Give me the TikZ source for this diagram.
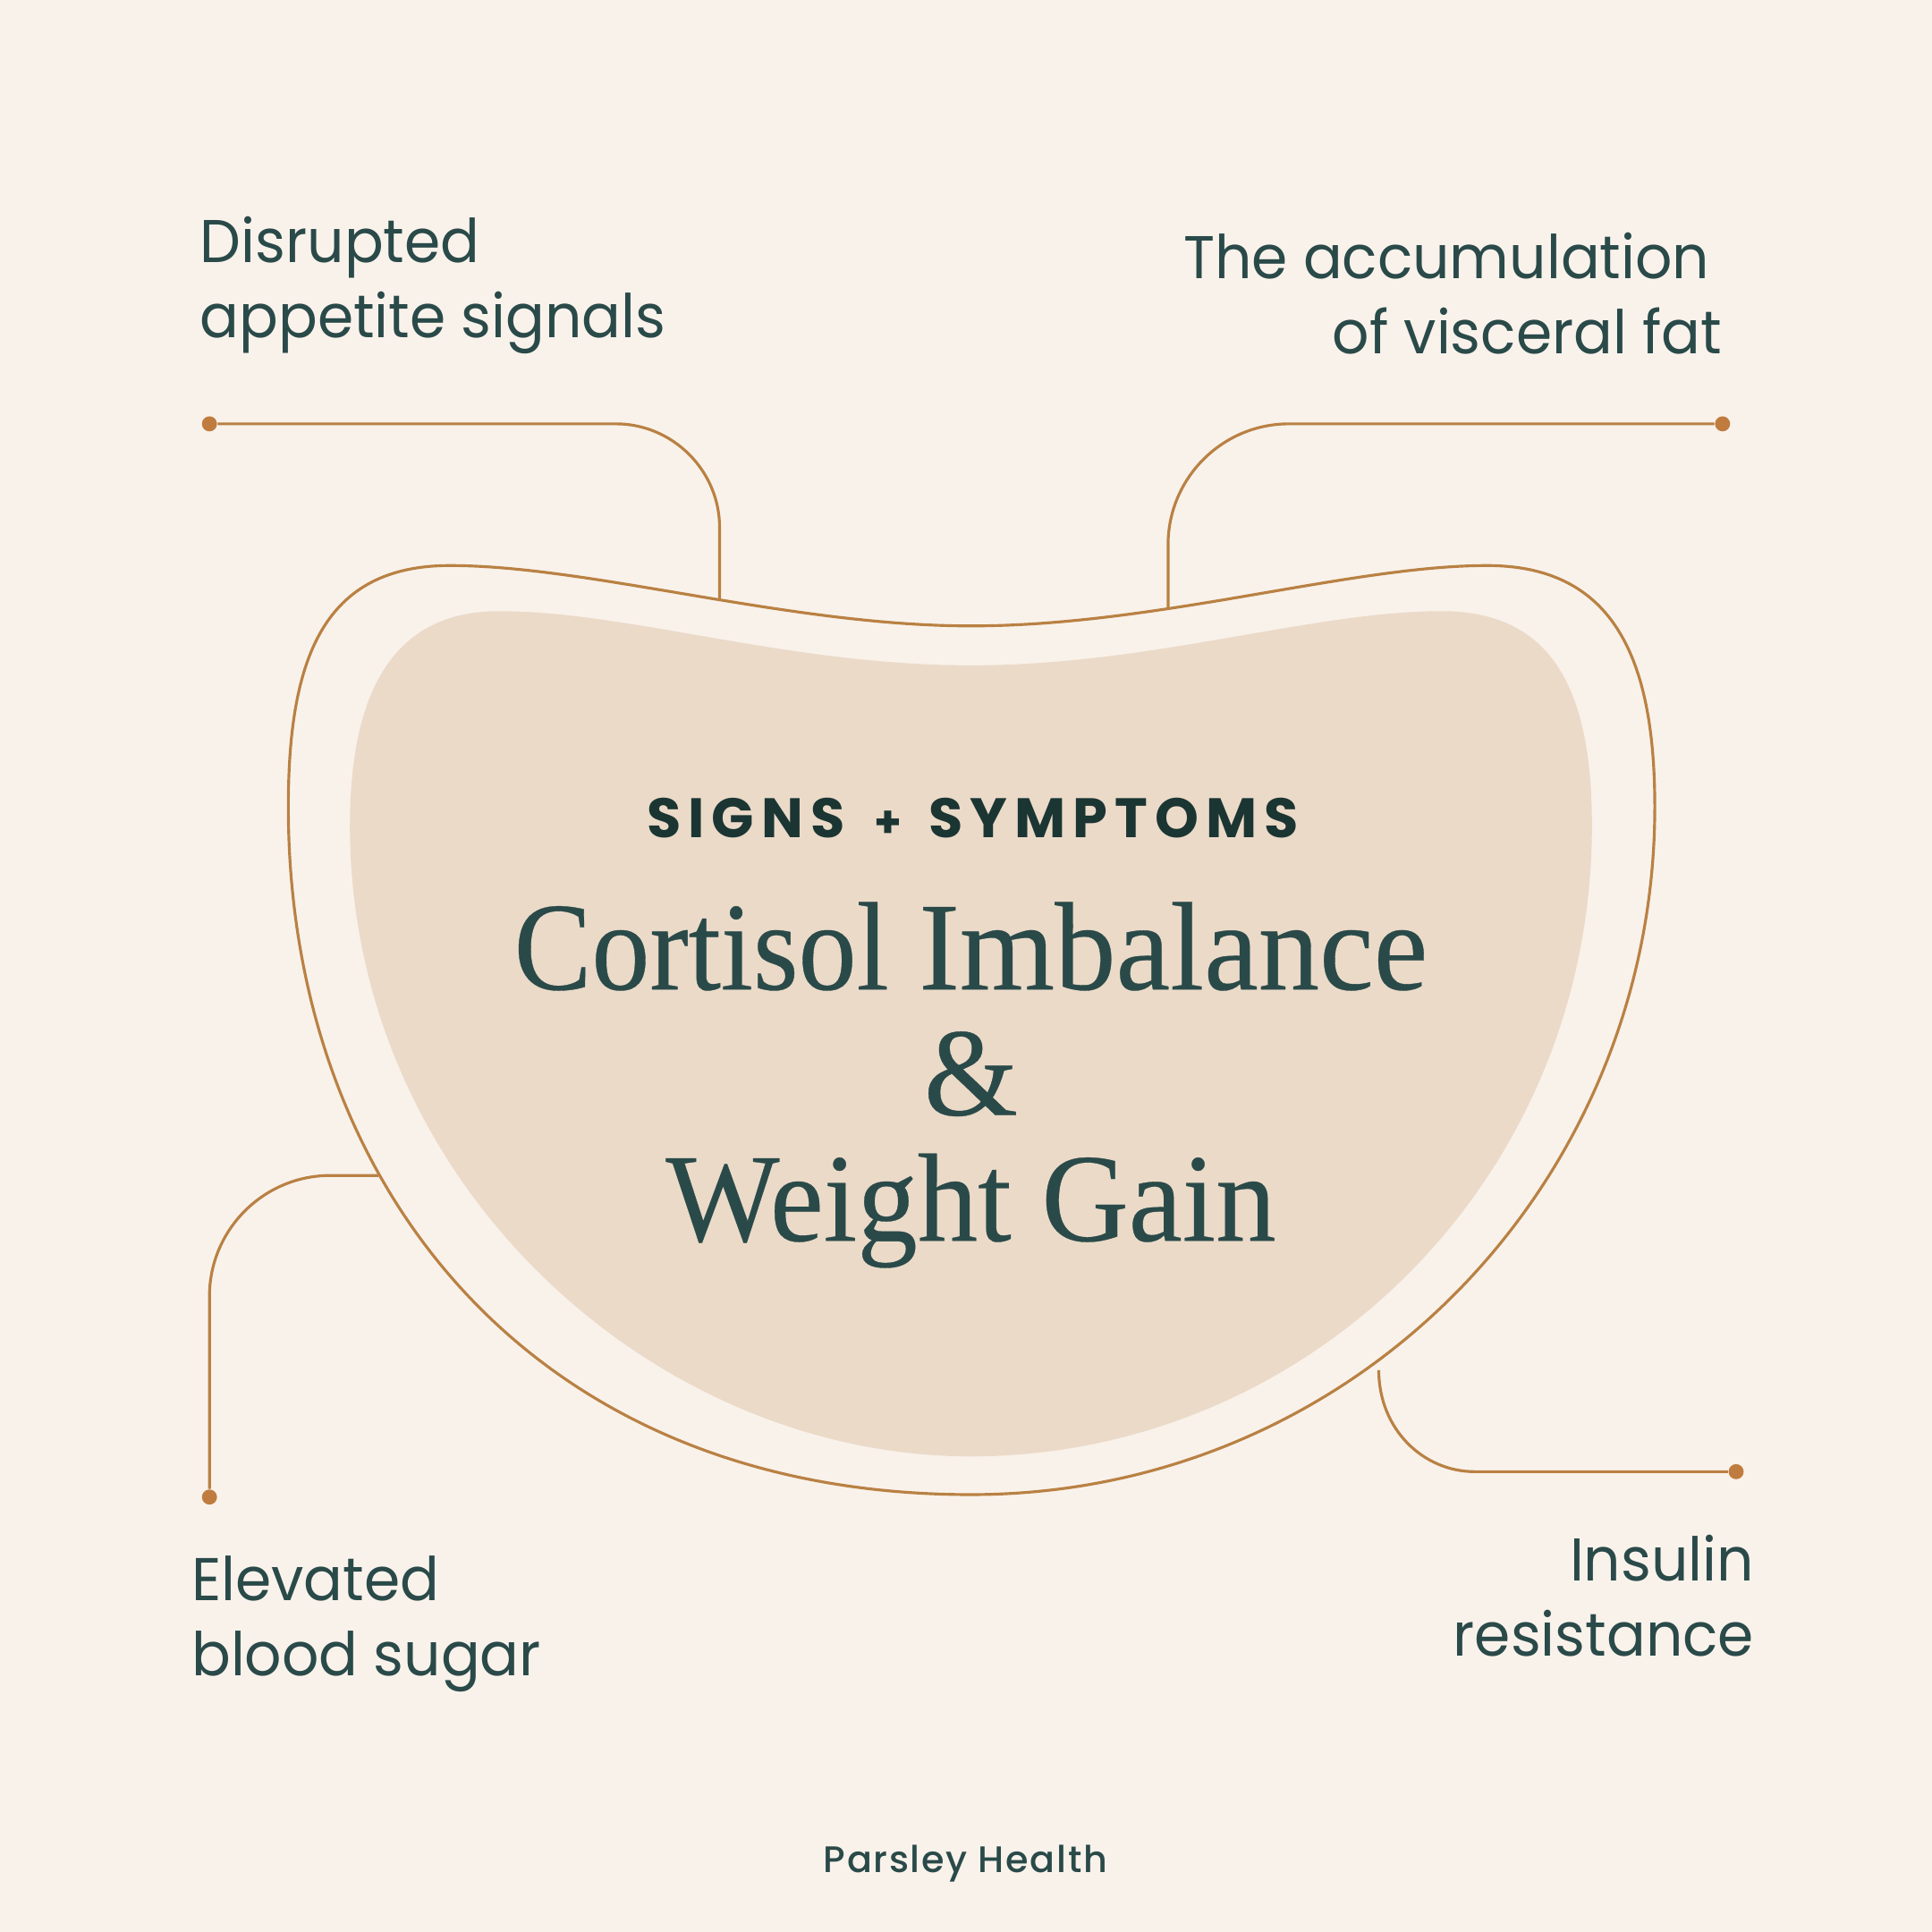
\documentclass[tikz,border=0pt]{standalone}
\usepackage{fontspec}
\setmainfont{Liberation Serif}
\newfontfamily\labelfont[FakeStretch=0.96]{Poppins}
\newfontfamily\headfont[LetterSpace=13]{Poppins Bold}
\newfontfamily\brandfont[LetterSpace=4]{Poppins Medium}
\newfontfamily\titlefont[FakeStretch=0.96,FakeBold=0.25]{Liberation Serif}
\newfontfamily\titlenarrow[FakeStretch=0.925,FakeBold=0.25]{Liberation Serif}
\newfontfamily\titlewide[FakeStretch=0.972,FakeBold=0.25]{Liberation Serif}
\definecolor{bgc}{HTML}{F9F2EB}
\definecolor{blobc}{HTML}{EBDAC8}
\definecolor{linec}{HTML}{B98143}
\definecolor{dotc}{HTML}{C07C3F}
\definecolor{inkc}{HTML}{2A4A49}
\definecolor{headc}{HTML}{1B3533}
\tikzset{
 lbl/.style={text=inkc,font=\labelfont\fontsize{19.2}{23.8}\selectfont,inner sep=0pt},
 ttl/.style={text=inkc,font=\titlefont\fontsize{40}{40}\selectfont,inner sep=0pt,anchor=base},
 lead/.style={draw=linec,line width=0.9pt},
 dotn/.style={circle,fill=dotc,inner sep=0pt,minimum size=4.8pt},
}
\begin{document}
\begin{tikzpicture}[x=0.0137755cm,y=-0.0137755cm]
\useasboundingbox (0,0) rectangle (1568,1568);
\fill[bgc] (0,0) rectangle (1568,1568);
\fill[blobc] (788,540) .. controls (640,540) and (510,496) .. (405,496) .. controls (320,496) and (284,560) .. (284,670) .. controls (284,960) and (530,1182) .. (788,1182) .. controls (1060,1182) and (1292,960) .. (1292,670) .. controls (1292,560) and (1260,496) .. (1170,496) .. controls (1065,496) and (935,540) .. (788,540) -- cycle;
\draw[lead] (788,508) .. controls (640,508) and (480,459) .. (365,459) .. controls (262,459) and (234,535) .. (234,655) .. controls (234,960) and (430,1213) .. (788,1213) .. controls (1100,1213) and (1343,960) .. (1343,655) .. controls (1343,535) and (1310,459) .. (1207,459) .. controls (1095,459) and (940,508) .. (788,508) -- cycle;
\node[dotn] (d1) at (170,344) {};
\node[dotn] (d2) at (1398,344) {};
\node[dotn] (d3) at (170,1215) {};
\node[dotn] (d4) at (1409,1194.4) {};
\coordinate (e1) at (584,487);
\coordinate (e2) at (948,495);
\coordinate (e3) at (307,954);
\coordinate (e4) at (1119,1112);
\draw[lead] (d1) -- (500,344) .. controls (546,344) and (584,382) .. (584,428) -- (e1);
\draw[lead] (d2) -- (1046,344) .. controls (992,344) and (948,388) .. (948,442) -- (e2);
\draw[lead] (d3) -- (170,1052) .. controls (170,998) and (214,954) .. (268,954) -- (e3);
\draw[lead] (d4) -- (1197,1194.4) .. controls (1155,1194.4) and (1119,1160) .. (e4);
\node[lbl,anchor=base west] (t1a) at (162,213) {Disrupted};
\node[lbl,anchor=base west] (t1b) at (162,274) {appetite signals};
\node[lbl,anchor=base west] (t2a) at (960,226) {The accumulation};
\node[lbl,anchor=base east] (t2b) at (1398,287) {of visceral fat};
\node[lbl,anchor=base west] (t3a) at (155,1299) {Elevated};
\node[lbl,anchor=base west] (t3b) at (155,1360) {blood sugar};
\node[lbl,anchor=base east] (t4a) at (1424,1283) {Insulin};
\node[lbl,anchor=base east] (t4b) at (1424,1344) {resistance};
\node[text=headc,font=\headfont\fontsize{17.7}{20}\selectfont,inner sep=0pt,anchor=base] (h) at (789.5,680) {SIGNS\hspace{9.5pt}{\fontsize{14}{20}\selectfont +}\hspace{8.5pt}SYMPTOMS};
\node[ttl] (m1) at (788,803) {{\titlenarrow Cortisol} {\titlewide Imbalance}};
\node[ttl] (m2) at (788,905) {\&};
\node[ttl] (m3) at (788,1007) {Weight Gain};
\node[text=inkc,font=\brandfont\fontsize{11.75}{14}\selectfont,inner sep=0pt,anchor=base] (b) at (783.5,1520) {Parsley Health};
\end{tikzpicture}
\end{document}
